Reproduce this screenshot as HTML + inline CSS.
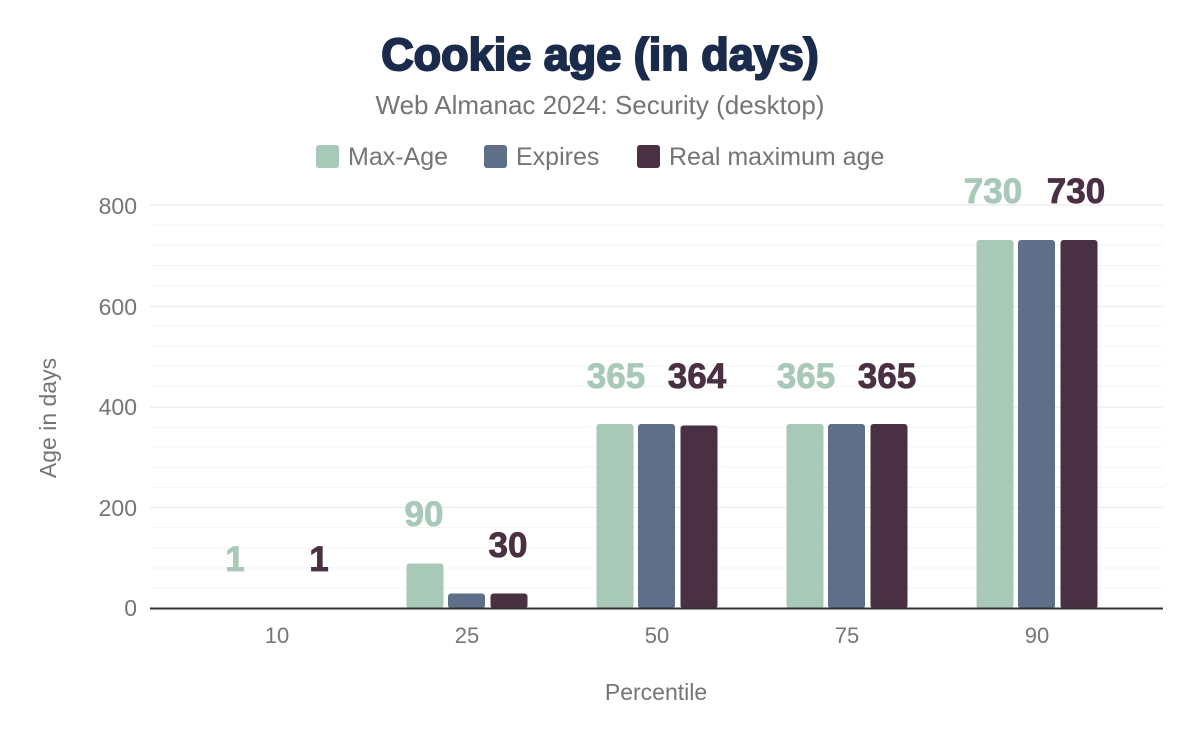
<!DOCTYPE html>
<html><head><meta charset="utf-8"><style>
body{margin:0;background:#fff;}
svg text{font-family:"Liberation Sans",sans-serif;}
</style></head><body>
<svg width="1200" height="742" viewBox="0 0 1200 742" xmlns="http://www.w3.org/2000/svg">
<rect width="1200" height="742" fill="#fff"/>
<text x="600" y="70" text-anchor="middle" font-size="45" font-weight="bold" fill="#1a2b4b" stroke="#1a2b4b" stroke-width="2">Cookie age (in days)</text>
<text x="600" y="114" text-anchor="middle" font-size="26" fill="#757575">Web Almanac 2024: Security (desktop)</text>
<rect x="316" y="145" width="23" height="23" rx="3" fill="#a8c8b8"/>
<text x="348" y="165" font-size="25" fill="#757575">Max-Age</text>
<rect x="484" y="145" width="23" height="23" rx="3" fill="#5f6f8a"/>
<text x="516" y="165" font-size="25" fill="#757575">Expires</text>
<rect x="637" y="145" width="23" height="23" rx="3" fill="#4a3043"/>
<text x="669" y="165" font-size="25" fill="#757575">Real maximum age</text>
<g stroke="#f4f4f4" stroke-width="1">
<line x1="150" x2="1163" y1="225.2" y2="225.2"/><line x1="150" x2="1163" y1="245.3" y2="245.3"/><line x1="150" x2="1163" y1="265.5" y2="265.5"/><line x1="150" x2="1163" y1="285.6" y2="285.6"/>
<line x1="150" x2="1163" y1="326" y2="326"/><line x1="150" x2="1163" y1="346" y2="346"/><line x1="150" x2="1163" y1="366" y2="366"/><line x1="150" x2="1163" y1="386.5" y2="386.5"/>
<line x1="150" x2="1163" y1="427" y2="427"/><line x1="150" x2="1163" y1="447" y2="447"/><line x1="150" x2="1163" y1="467.3" y2="467.3"/><line x1="150" x2="1163" y1="487.5" y2="487.5"/>
<line x1="150" x2="1163" y1="527.8" y2="527.8"/><line x1="150" x2="1163" y1="548" y2="548"/><line x1="150" x2="1163" y1="568" y2="568"/><line x1="150" x2="1163" y1="588" y2="588"/>
</g>
<g stroke="#ebebeb" stroke-width="1.3">
<line x1="150" x2="1163" y1="205" y2="205"/><line x1="150" x2="1163" y1="306.5" y2="306.5"/><line x1="150" x2="1163" y1="407" y2="407"/><line x1="150" x2="1163" y1="507.5" y2="507.5"/>
</g>
<g font-size="23" fill="#757575" text-anchor="end">
<text x="137" y="214">800</text><text x="137" y="315">600</text><text x="137" y="415">400</text><text x="137" y="516">200</text><text x="137" y="616">0</text>
</g>
<text transform="translate(56,418) rotate(-90)" text-anchor="middle" font-size="23" fill="#757575">Age in days</text>
<g fill="#a8c8b8">
<rect x="406.5" y="563.5" width="37" height="45" rx="3"/>
<rect x="596.5" y="424" width="37" height="184.5" rx="3"/>
<rect x="786.5" y="424" width="37" height="184.5" rx="3"/>
<rect x="976.5" y="240" width="37" height="368.5" rx="3"/>
</g>
<g fill="#5f6f8a">
<rect x="448" y="593.5" width="37" height="15" rx="3"/>
<rect x="638" y="424" width="37" height="184.5" rx="3"/>
<rect x="828" y="424" width="37" height="184.5" rx="3"/>
<rect x="1018" y="240" width="37" height="368.5" rx="3"/>
</g>
<g fill="#4a3043">
<rect x="490.5" y="593.5" width="37" height="15" rx="3"/>
<rect x="680.5" y="425.5" width="37" height="183" rx="3"/>
<rect x="870.5" y="424" width="37" height="184.5" rx="3"/>
<rect x="1060.5" y="240" width="37" height="368.5" rx="3"/>
</g>
<line x1="150" x2="1163" y1="608.5" y2="608.5" stroke="#333" stroke-width="2"/>
<g font-size="35" font-weight="bold" text-anchor="middle" stroke-width="0.8">
<g fill="#a8c8b8" stroke="#a8c8b8">
<text x="235" y="571">1</text><text x="424" y="526">90</text><text x="616" y="388">365</text><text x="806" y="388">365</text><text x="993" y="203">730</text>
</g>
<g fill="#4a3043" stroke="#4a3043">
<text x="319" y="571">1</text><text x="508" y="557">30</text><text x="697" y="388">364</text><text x="887" y="388">365</text><text x="1076" y="203">730</text>
</g>
</g>
<g font-size="22" fill="#757575" text-anchor="middle">
<text x="277" y="643">10</text><text x="467" y="643">25</text><text x="657" y="643">50</text><text x="847" y="643">75</text><text x="1037" y="643">90</text>
</g>
<text x="656" y="700" text-anchor="middle" font-size="23" fill="#757575">Percentile</text>
</svg>
</body></html>
